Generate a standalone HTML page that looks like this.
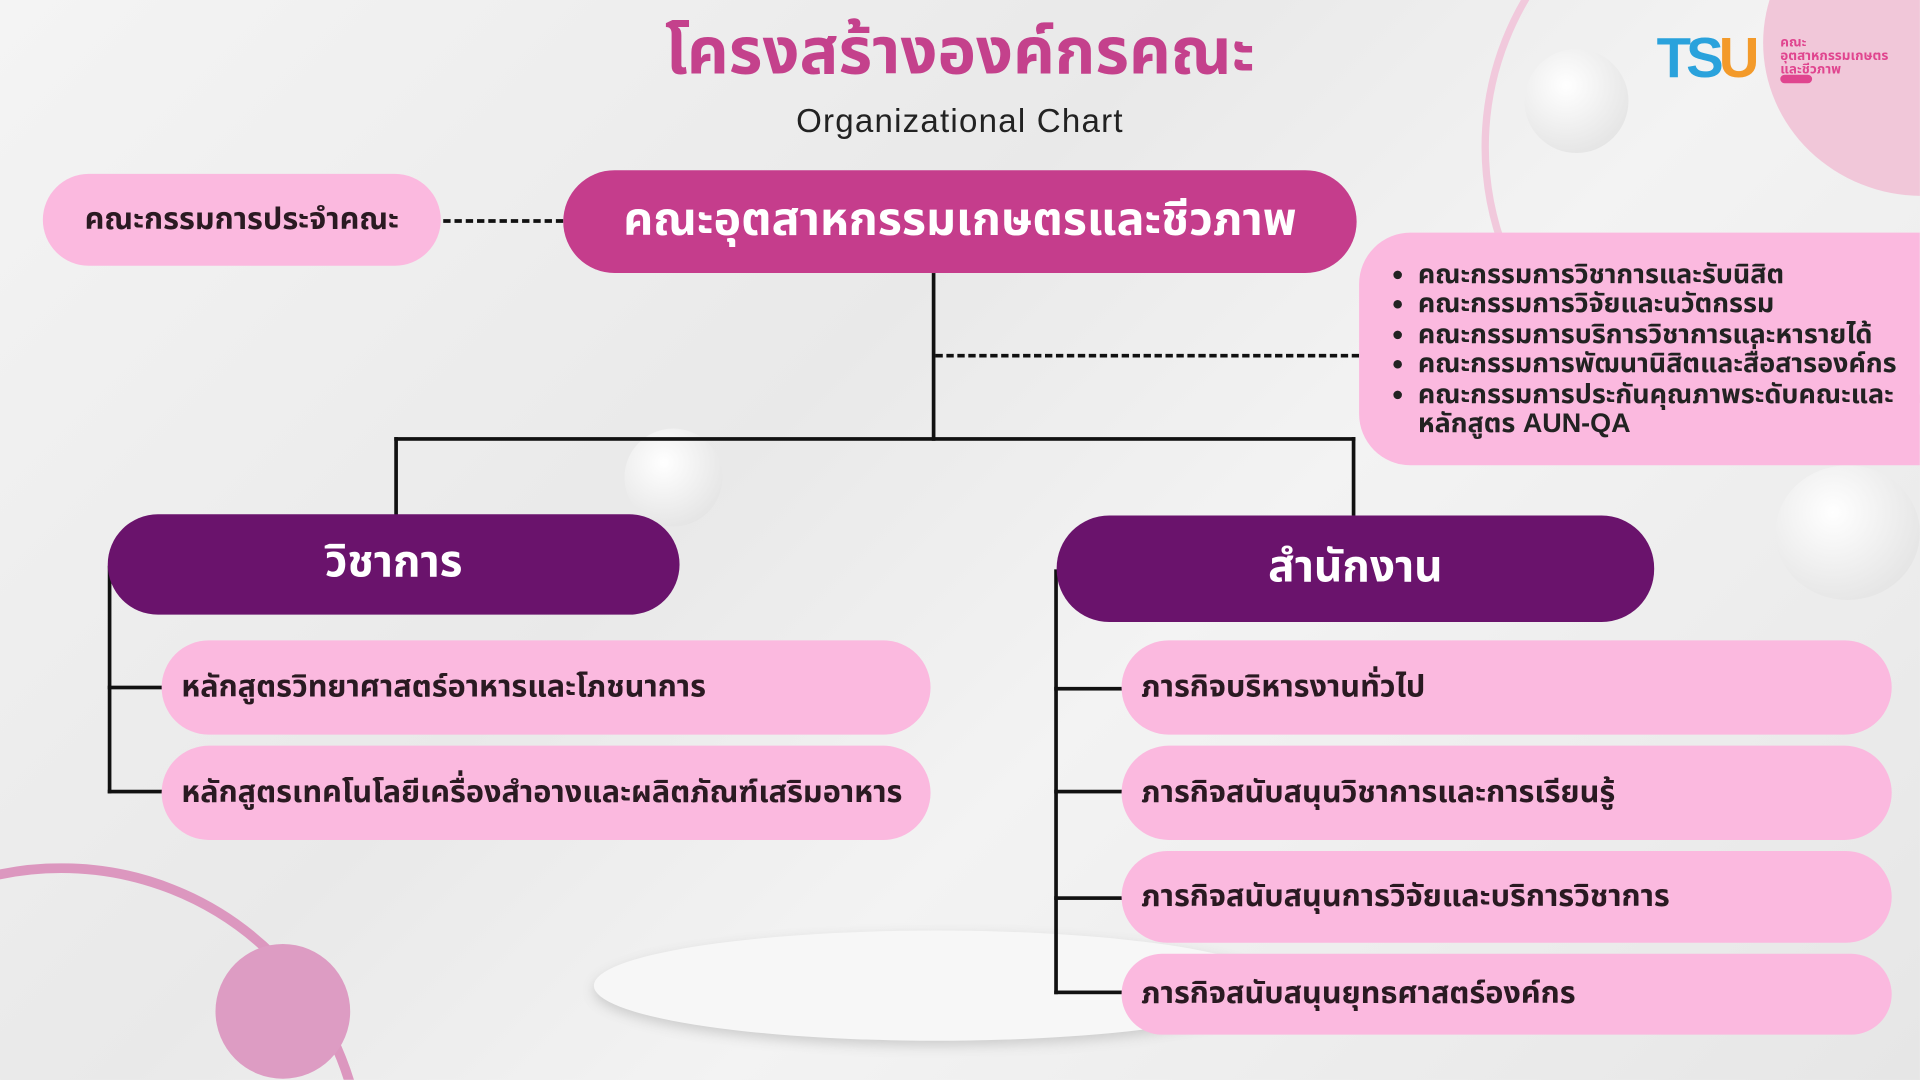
<!DOCTYPE html>
<html><head><meta charset="utf-8">
<style>
html,body{margin:0;padding:0;width:1920px;height:1080px;overflow:hidden;background:#efefef;}
#s{position:absolute;left:0;top:0;width:1568px;height:882px;transform:scale(1.2244);transform-origin:0 0;
font-family:"Liberation Sans","Noto Sans Thai","Loma","Garuda","Tlwg Typo",sans-serif;
background:linear-gradient(135deg,#f4f4f4 0%,#e9e9e9 40%,#f3f3f3 60%,#e6e6e6 100%);overflow:hidden;}
.a{position:absolute;box-sizing:border-box;display:flex;align-items:center;}
.pk{background:#fbb9df;color:#2a1a22;font-weight:bold;font-size:25px;border-radius:40px;padding-left:16px;white-space:nowrap;}
.ln{position:absolute;background:#111;}
.dh{position:absolute;border-top:3px dashed #111;height:0;}
</style></head><body><div id="s">
<div style="position:absolute;left:1210px;top:-120px;width:480px;height:480px;border-radius:50%;border:6px solid #f1c9dc;box-sizing:border-box;"></div>
<div style="position:absolute;left:1440px;top:-90px;width:260px;height:250px;border-radius:50%;background:#f1c7d9;"></div>
<div style="position:absolute;left:-200px;top:705px;width:500px;height:177px;overflow:hidden;">
<div style="width:500px;height:500px;border-radius:50%;border:8px solid #dc97bf;box-sizing:border-box;"></div></div>
<div style="position:absolute;left:176px;top:771px;width:110px;height:110px;border-radius:50%;background:#dd9cc3;"></div>
<div style="position:absolute;left:485px;top:760px;width:560px;height:90px;border-radius:50%;background:#f7f7f7;box-shadow:0 4px 10px #ccc;"></div>
<div style="position:absolute;left:1245px;top:40px;width:85px;height:85px;border-radius:50%;background:radial-gradient(circle at 40% 35%,#fff,#ddd);"></div>
<div style="position:absolute;left:1450px;top:380px;width:118px;height:110px;border-radius:50%;background:radial-gradient(circle at 40% 35%,#fff,#ddd);"></div>
<div style="position:absolute;left:510px;top:350px;width:80px;height:80px;border-radius:50%;background:radial-gradient(circle at 40% 35%,#fff,#ddd);"></div>
<div style="position:absolute;left:1353px;top:20px;font:bold 46px 'Liberation Sans',sans-serif;color:#2aa2dc;letter-spacing:-4px;">TS<span style="color:#f39a2a">U</span></div>
<div style="position:absolute;left:1454px;top:30px;font-size:11px;line-height:11px;color:#e0458f;font-weight:bold;">คณะ<br>อุตสาหกรรมเกษตร<br>และชีวภาพ</div>
<div style="position:absolute;left:1454px;top:61px;width:26px;height:7px;border-radius:4px;background:#e0458f;"></div>
<div style="position:absolute;left:0;width:1568px;top:4px;text-align:center;font-size:53px;font-weight:bold;color:#c4418c;">โครงสร้างองค์กรคณะ</div>
<div style="position:absolute;left:0;width:1568px;top:84px;text-align:center;font-size:27px;color:#222;letter-spacing:1px;">Organizational Chart</div>
<div class="a pk" style="left:35px;top:142px;width:325px;height:75px;justify-content:center;padding:0;">คณะกรรมการประจำคณะ</div>
<div class="dh" style="left:362px;top:179px;width:98px;"></div>
<div class="a" style="left:460px;top:139px;width:648px;height:84px;border-radius:42px;background:#c53d8c;color:#fff;font-weight:bold;font-size:38px;justify-content:center;white-space:nowrap;">คณะอุตสาหกรรมเกษตรและชีวภาพ</div>
<div class="ln" style="left:761px;top:223px;width:3px;height:137px;"></div>
<div class="dh" style="left:764px;top:289px;width:346px;"></div>
<div class="a" style="left:1110px;top:190px;width:458px;height:190px;border-radius:42px 0 0 42px;background:#fbb9df;align-items:center;">
<ul style="margin:0;padding-left:48px;font-size:22px;font-weight:bold;line-height:24.5px;color:#222;white-space:nowrap;">
<li>คณะกรรมการวิชาการและรับนิสิต</li><li>คณะกรรมการวิจัยและนวัตกรรม</li><li>คณะกรรมการบริการวิชาการและหารายได้</li><li>คณะกรรมการพัฒนานิสิตและสื่อสารองค์กร</li><li>คณะกรรมการประกันคุณภาพระดับคณะและ<br>หลักสูตร AUN-QA</li></ul></div>
<div class="ln" style="left:322px;top:357px;width:785px;height:3px;"></div>
<div class="ln" style="left:322px;top:357px;width:3px;height:64px;"></div>
<div class="ln" style="left:1104px;top:357px;width:3px;height:64px;"></div>
<div class="ln" style="left:88px;top:462px;width:3px;height:186px;"></div>
<div class="ln" style="left:88px;top:560px;width:46px;height:3px;"></div>
<div class="ln" style="left:88px;top:645px;width:46px;height:3px;"></div>
<div class="a" style="left:88px;top:420px;width:467px;height:82px;border-radius:41px;background:#6a136c;color:#fff;font-weight:bold;font-size:36px;justify-content:center;">วิชาการ</div>
<div class="a pk" style="left:132px;top:523px;width:628px;height:77px;">หลักสูตรวิทยาศาสตร์อาหารและโภชนาการ</div>
<div class="a pk" style="left:132px;top:609px;width:628px;height:77px;">หลักสูตรเทคโนโลยีเครื่องสำอางและผลิตภัณฑ์เสริมอาหาร</div>
<div class="ln" style="left:861px;top:465px;width:3px;height:347px;"></div>
<div class="ln" style="left:861px;top:561px;width:56px;height:3px;"></div>
<div class="ln" style="left:861px;top:645px;width:56px;height:3px;"></div>
<div class="ln" style="left:861px;top:732px;width:56px;height:3px;"></div>
<div class="ln" style="left:861px;top:809px;width:56px;height:3px;"></div>
<div class="a" style="left:863px;top:421px;width:488px;height:87px;border-radius:43px;background:#6a136c;color:#fff;font-weight:bold;font-size:36px;justify-content:center;">สำนักงาน</div>
<div class="a pk" style="left:916px;top:523px;width:629px;height:77px;">ภารกิจบริหารงานทั่วไป</div>
<div class="a pk" style="left:916px;top:609px;width:629px;height:77px;">ภารกิจสนับสนุนวิชาการและการเรียนรู้</div>
<div class="a pk" style="left:916px;top:695px;width:629px;height:75px;">ภารกิจสนับสนุนการวิจัยและบริการวิชาการ</div>
<div class="a pk" style="left:916px;top:779px;width:629px;height:66px;">ภารกิจสนับสนุนยุทธศาสตร์องค์กร</div>
</div></body></html>
